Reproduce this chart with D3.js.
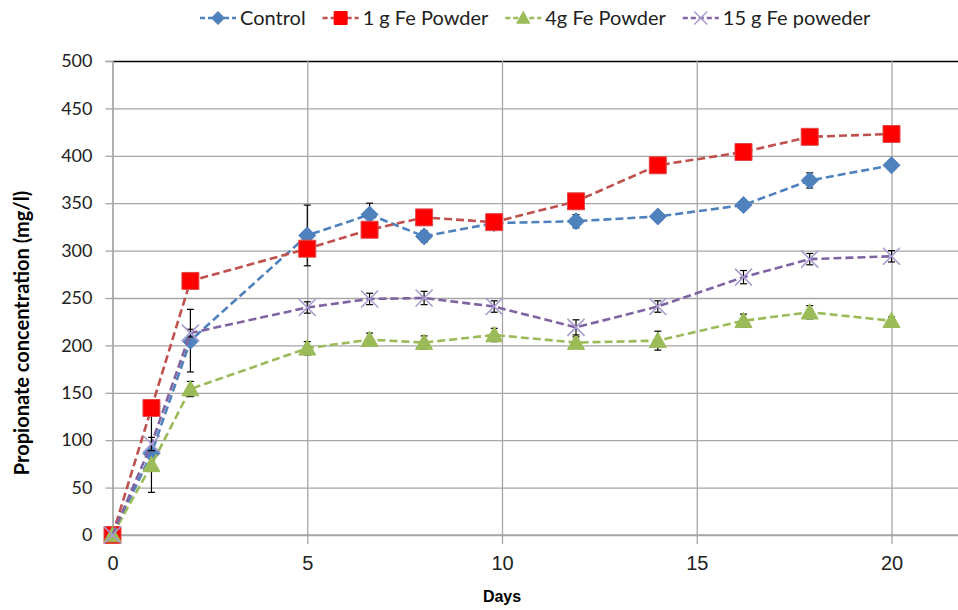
<!DOCTYPE html>
<html>
<head>
<meta charset="utf-8">
<script src="https://cdn.jsdelivr.net/npm/d3@7"></script>
<style>
  body { margin: 0; background: #fff; }
  svg { display: block; }
</style>
</head>
<body>
<div class="chart"></div>
<script>
// values
const days = [0, 1, 2, 5, 6.6, 8, 9.8, 11.9, 14, 16.2, 17.9, 20];
const control = [0, 86, 205, 316, 338, 315, 329, 331, 336, 348, 374, 390];
const controlErr = [0, 41, 33, 32, 12, 6, 4, 7, 5, 5, 8, 4];
const fe1 = [0, 134, 268, 302, 322, 335, 330, 352, 390, 404, 420, 423];
const fe4 = [0, 74, 154, 197, 206, 203, 211, 203, 205, 226, 235, 226];
const fe4Err = [0, 0, 8, 7, 7, 7, 7, 6, 10, 7, 7, 4];
const fe15 = [0, 96, 213, 240, 249, 250, 241, 219, 241, 272, 291, 294];
const fe15Err = [0, 7, 4, 6, 6, 7, 6, 8, 6, 7, 6, 6];
const seriesNames = ['Control', '1 g Fe Powder', '4g Fe Powder', '15 g Fe poweder'];
const xTicks = [0, 5, 10, 15, 20];
const yTicks = [0, 50, 100, 150, 200, 250, 300, 350, 400, 450, 500];

const series = [
  {name: seriesNames[0], values: control, err: controlErr, line: '#4F81BD', fill: '#4F81BD', shape: 'diamond'},
  {name: seriesNames[1], values: fe1, err: null, line: '#C0504D', fill: '#FF0000', shape: 'square'},
  {name: seriesNames[2], values: fe4, err: fe4Err, line: '#9BBB59', fill: '#9BBB59', shape: 'triangle'},
  {name: seriesNames[3], values: fe15, err: fe15Err, line: '#8064A2', fill: '#A99BD0', shape: 'cross'}
];

const W = 958, H = 610;
const plotLeft = 112.5, plotTop = 61, plotBottom = 535;

const svg = d3.select('.chart').append('svg')
  .attr('width', W)
  .attr('height', H);

const x = d3.scaleLinear().domain([0, 22]).range([plotLeft, plotLeft + 22 * 38.95]);
const y = d3.scaleLinear().domain([0, 500]).range([plotBottom, plotTop]);

// marker paths, centred on 0,0
function markerPath(shape, s) {
  const h = s / 2;
  if (shape === 'diamond') return `M0,${-h}L${h},0L0,${h}L${-h},0Z`;
  if (shape === 'square') return `M${-h},${-h}H${h}V${h}H${-h}Z`;
  if (shape === 'triangle') return `M0,${-h}L${h},${h * 0.8}L${-h},${h * 0.8}Z`;
  return `M${-h},${-h}L${h},${h}M${h},${-h}L${-h},${h}`;
}

// horizontal grid
svg.append('g')
  .attr('transform', `translate(${plotLeft},0)`)
  .call(d3.axisLeft(y).tickValues(yTicks).tickSize(-(W - plotLeft)).tickFormat(''))
  .call(g => g.select('.domain').remove())
  .call(g => g.selectAll('line').attr('stroke', '#a6a6a6').attr('stroke-width', 1.3))
  .call(g => g.selectAll('.tick').filter(d => d === 500).select('line').attr('stroke', '#000').attr('stroke-width', 1.3));

// vertical grid
svg.append('g')
  .attr('transform', `translate(0,${plotBottom})`)
  .call(d3.axisBottom(x).tickValues(xTicks).tickSize(-(plotBottom - plotTop)).tickFormat(''))
  .call(g => g.select('.domain').remove())
  .call(g => g.selectAll('line').attr('stroke', '#a6a6a6').attr('stroke-width', 1.3));

// y axis
svg.append('g')
  .attr('transform', `translate(${plotLeft},0)`)
  .call(d3.axisLeft(y).tickValues(yTicks).tickSize(7).tickPadding(13))
  .call(g => g.select('.domain').attr('stroke', '#a6a6a6').attr('stroke-width', 1.3))
  .call(g => g.selectAll('line').attr('stroke', '#a6a6a6').attr('stroke-width', 1.3))
  .call(g => g.selectAll('text')
    .attr('font-family', 'Lato, "Open Sans", sans-serif')
    .attr('font-size', 18)
    .attr('fill', '#222'));

// x axis
svg.append('g')
  .attr('transform', `translate(0,${plotBottom})`)
  .call(d3.axisBottom(x).tickValues(xTicks).tickSize(9).tickPadding(12))
  .call(g => g.select('.domain').remove())
  .call(g => g.selectAll('line').attr('stroke', '#a6a6a6').attr('stroke-width', 1.3))
  .call(g => g.selectAll('text')
    .attr('font-family', '"Liberation Sans Narrow", "Arial Narrow", "Liberation Sans", sans-serif')
    .attr('font-size', 20)
    .attr('fill', '#222'));

svg.append('line')
  .attr('x1', plotLeft).attr('x2', W)
  .attr('y1', y(0)).attr('y2', y(0))
  .attr('stroke', '#a6a6a6').attr('stroke-width', 1.3);

// axis titles
svg.append('text')
  .attr('x', x(10)).attr('y', 602)
  .attr('text-anchor', 'middle')
  .attr('font-family', '"Liberation Sans", Arial, sans-serif')
  .attr('font-weight', 'bold')
  .attr('font-size', 16)
  .text('Days');

svg.append('text')
  .attr('transform', `translate(29,${(plotTop + plotBottom) / 2 + 35}) rotate(-90)`)
  .attr('text-anchor', 'middle')
  .attr('font-family', 'Lato, "Open Sans", sans-serif')
  .attr('font-weight', 'bold')
  .attr('font-size', 20)
  .text('Propionate concentration (mg/l)');

const line = d3.line()
  .x((d, i) => x(days[i]))
  .y(d => y(d));

series.forEach(s => {
  const g = svg.append('g');

  g.append('path')
    .datum(s.values)
    .attr('d', line)
    .attr('fill', 'none')
    .attr('stroke', s.line)
    .attr('stroke-width', 2.6)
    .attr('stroke-dasharray', '8,4');

  if (s.err) {
    const eb = g.selectAll('.err')
      .data(s.values.map((v, i) => ({day: days[i], v: v, e: s.err[i]})).filter(d => d.e > 0))
      .enter().append('g');
    eb.append('line')
      .attr('x1', d => x(d.day)).attr('x2', d => x(d.day))
      .attr('y1', d => y(d.v - d.e)).attr('y2', d => y(d.v + d.e))
      .attr('stroke', '#000').attr('stroke-width', 1.2);
    [-1, 1].forEach(k => {
      eb.append('line')
        .attr('x1', d => x(d.day) - 3.5).attr('x2', d => x(d.day) + 3.5)
        .attr('y1', d => y(d.v + k * d.e)).attr('y2', d => y(d.v + k * d.e))
        .attr('stroke', '#000').attr('stroke-width', 1.2);
    });
  }

  g.selectAll('.mk')
    .data(s.values)
    .enter().append('path')
    .attr('transform', (d, i) => `translate(${x(days[i])},${y(d)})`)
    .attr('d', markerPath(s.shape, 17))
    .attr('fill', s.shape === 'cross' ? 'none' : s.fill)
    .attr('stroke', s.shape === 'cross' ? s.fill : (s.shape === 'square' ? '#e04848' : s.fill))
    .attr('stroke-width', s.shape === 'cross' ? 1.6 : 1);
});

// legend
const legend = svg.append('g').attr('transform', 'translate(200,18)');
let lx = 0;
series.forEach(s => {
  const item = legend.append('g').attr('transform', `translate(${lx},0)`);
  item.append('line')
    .attr('x1', 0).attr('x2', 36)
    .attr('stroke', s.line).attr('stroke-width', 2.6)
    .attr('stroke-dasharray', '5,3');
  item.append('path')
    .attr('transform', 'translate(18,0)')
    .attr('d', markerPath(s.shape, 13))
    .attr('fill', s.shape === 'cross' ? 'none' : s.fill)
    .attr('stroke', s.fill)
    .attr('stroke-width', s.shape === 'cross' ? 1.5 : 1);
  const t = item.append('text')
    .attr('x', 40).attr('dy', '0.35em')
    .attr('font-family', 'Lato, "Open Sans", sans-serif')
    .attr('font-size', 20)
    .attr('fill', '#222')
    .text(s.name);
  lx += 40 + t.node().getComputedTextLength() + 17;
});
</script>
</body>
</html>
